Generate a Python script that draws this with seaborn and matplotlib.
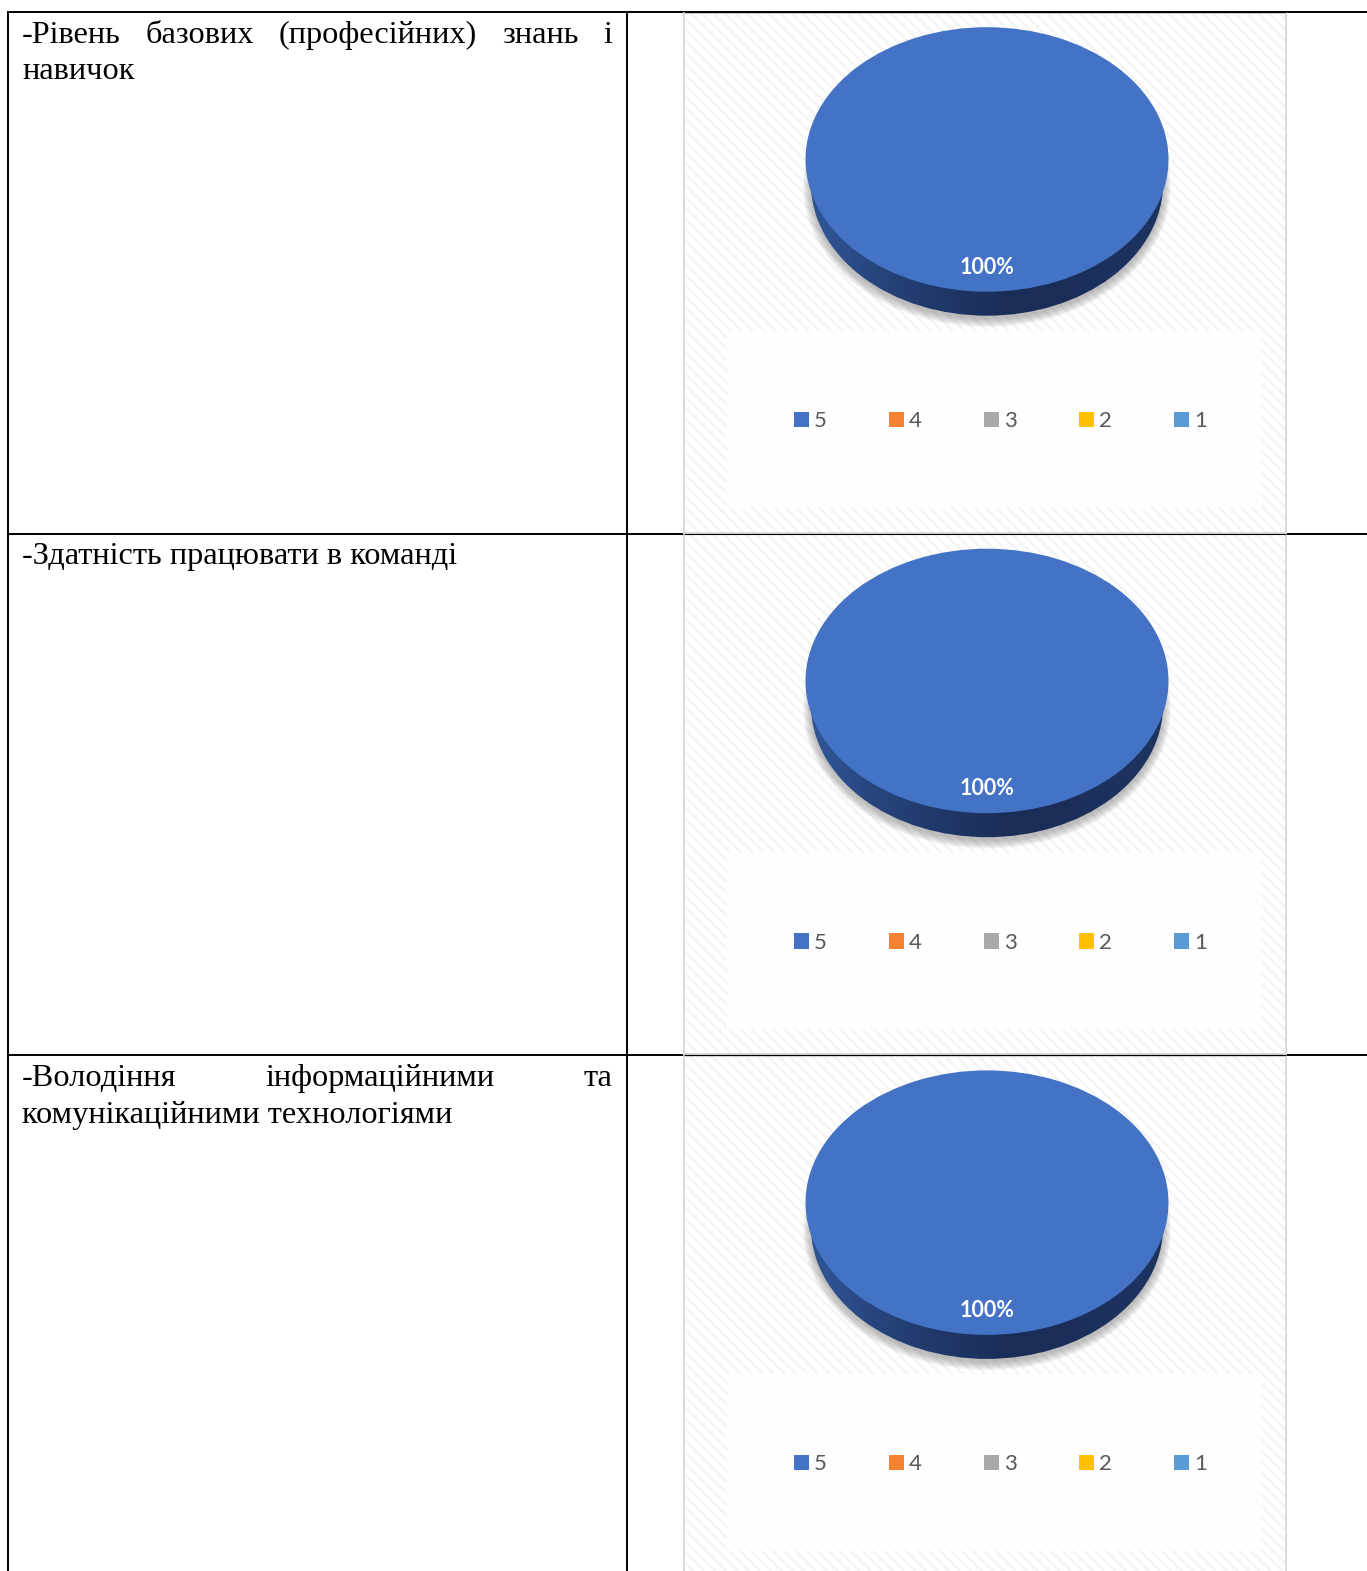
import matplotlib
matplotlib.use("Agg")
import numpy as np
import matplotlib.pyplot as plt
from matplotlib.patches import Ellipse, Rectangle
import seaborn as sns

categories = ["5", "4", "3", "2", "1"]
colours = ["#4472C4", "#F58230", "#A9A9A9", "#FFC000", "#5B9BD5"]
row_values = [
    [100, 0, 0, 0, 0],
    [100, 0, 0, 0, 0],
    [100, 0, 0, 0, 0],
]
row_text = [
    [("-Рівень базових (професійних) знань і", True), ("навичок", False)],
    [("-Здатність працювати в команді", False)],
    [("-Володіння інформаційними та", True), ("комунікаційними технологіями", False)],
]

W, H = 1367, 1571
ROW_TOPS = [12.2, 533.7, 1055.4]
TEXT_X0, TEXT_X1 = 22, 612
SERIF = "Liberation Serif"
TEXT_SIZE = 23.35

sns.set_theme(style="white")
plt.rcParams["font.family"] = ["Lato", "DejaVu Sans"]
plt.rcParams["hatch.linewidth"] = 1.7

fig = plt.figure(figsize=(W / 100, H / 100), dpi=100, facecolor="white")
bg = fig.add_axes([0, 0, 1, 1])
bg.axis("off")


def px_axes(x0, y0, x1, y1, zorder=3):
    # axes placed with pixel coordinates, y going down
    ax = fig.add_axes([x0 / W, 1 - y1 / H, (x1 - x0) / W, (y1 - y0) / H], zorder=zorder)
    return ax


def draw_line(renderer, text, y, justify):
    if not justify:
        bg.text(TEXT_X0, y, text, family=SERIF, fontsize=TEXT_SIZE, color="black", va="baseline")
        return
    words = text.split(" ")
    widths = []
    for w in words:
        t = bg.text(0, 0, w, family=SERIF, fontsize=TEXT_SIZE)
        widths.append(t.get_window_extent(renderer).width)
        t.remove()
    gap = (TEXT_X1 - TEXT_X0 - sum(widths)) / (len(words) - 1)
    x = TEXT_X0
    for w, wd in zip(words, widths):
        bg.text(x, y, w, family=SERIF, fontsize=TEXT_SIZE, color="black", va="baseline")
        x += wd + gap


renderer = fig.canvas.get_renderer()
grad = np.array([[0.0, 0.35, 0.6, 0.8, 1.0, 1.0, 0.9, 0.85]])
wall_cmap = sns.blend_palette(["#2E5292", "#1A2D57"], as_cmap=True)

for row, top in enumerate(ROW_TOPS):
    # chart frame
    bg.add_patch(Rectangle((684, top + 0.5), 601.5, 520, facecolor="white", edgecolor="#DADADA",
                           lw=1.4, zorder=1))
    bg.add_patch(Rectangle((685, top + 1.5), 599.5, 518, facecolor="white", edgecolor="#F4F4F4",
                           hatch="\\\\\\", lw=0, zorder=1.1))
    bg.add_patch(Rectangle((727, top + 318.5), 534, 177, facecolor="white", alpha=0.85, lw=0, zorder=1.2))

    # drop shadow under the pie
    for k in range(7):
        bg.add_patch(Ellipse((987, top + 173 + 2), 2 * (176 + k * 1.3), 2 * (132 + k * 1.3),
                             facecolor="#707070", alpha=0.08, lw=0, zorder=1.3))

    # pie side wall
    wall = Ellipse((987, top + 171.5), 352, 264, facecolor="none", lw=0, transform=bg.transData)
    bg.add_patch(wall)
    img = bg.imshow(grad, extent=(806, 1168, top + 304, top + 100), cmap=wall_cmap, aspect="auto",
                    zorder=1.5, interpolation="bilinear", vmin=0, vmax=1)
    img.set_clip_path(wall)

    # pie top
    ax = px_axes(805.5, top + 15, 1168.5, top + 279.5)
    ax.patch.set_alpha(0)
    wedges, _, autotexts = ax.pie(
        row_values[row], colors=colours, startangle=90, radius=1, pctdistance=0.815,
        autopct=lambda p: f"{p:.0f}%" if p > 0 else "",
        wedgeprops={"linewidth": 0, "edgecolor": "none"},
        textprops={"color": "white", "fontsize": 15.5, "fontweight": "bold"},
    )
    ax.set_aspect("auto")
    ax.set_xlim(-1, 1)
    ax.set_ylim(-1, 1)

    # legend
    ax.legend(wedges, categories, ncol=5, loc="center", bbox_to_anchor=(1000.5, top + 409),
              bbox_transform=bg.transData, frameon=False, fontsize=16, labelcolor="#595959",
              handlelength=0.68, handleheight=0.68, handletextpad=0.24, columnspacing=2.78,
              borderpad=0, borderaxespad=0)

    # text cell
    for i, (line, justify) in enumerate(row_text[row]):
        draw_line(renderer, line, top + 30.6 + i * 36.5, justify)

bg.set_xlim(0, W)
bg.set_ylim(H, 0)

# table rules
for top in ROW_TOPS:
    bg.plot([7, W], [top, top], color="black", lw=1.4, zorder=0.5, solid_capstyle="butt")
    bg.plot([684, 1286], [top, top], color="black", lw=0.8, zorder=1.4, solid_capstyle="butt")
bg.plot([8, 8], [12, H], color="black", lw=1.4, zorder=0.5, solid_capstyle="butt")
bg.plot([627, 627], [12, H], color="black", lw=1.4, zorder=0.5, solid_capstyle="butt")

fig.savefig("out.png", dpi=100)
